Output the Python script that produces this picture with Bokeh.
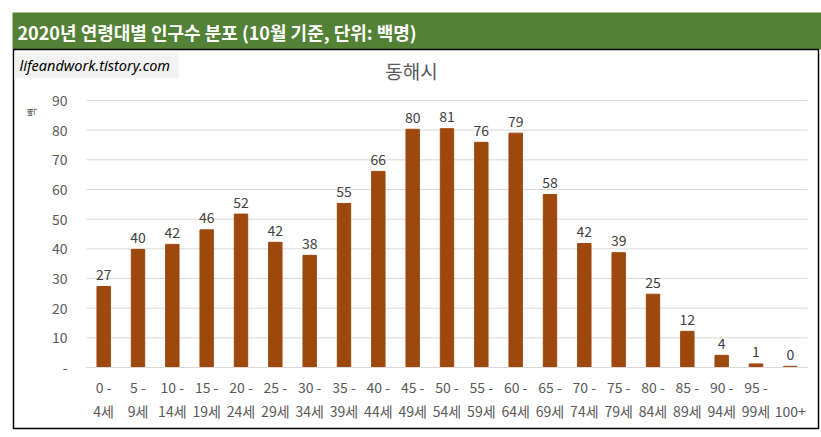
import math
from bokeh.plotting import figure
from bokeh.models import BoxAnnotation, Label, FixedTicker, ColumnDataSource, Range1d, LinearAxis
from bokeh.core.properties import value
from bokeh.embed import file_html
from bokeh.resources import INLINE

# ---- data ----
age_groups = ["0 -\n4세", "5 -\n9세", "10 -\n14세", "15 -\n19세", "20 -\n24세", "25 -\n29세",
              "30 -\n34세", "35 -\n39세", "40 -\n44세", "45 -\n49세", "50 -\n54세", "55 -\n59세",
              "60 -\n64세", "65 -\n69세", "70 -\n74세", "75 -\n79세", "80 -\n84세", "85 -\n89세",
              "90 -\n94세", "95 -\n99세", "\n100+"]
population = [27.3, 39.8, 41.5, 46.4, 51.7, 42.2, 37.8, 55.3, 66.1, 80.3, 80.5, 75.9,
              79.0, 58.3, 41.8, 38.7, 24.7, 12.2, 4.1, 1.2, 0.4]
value_labels = ["27", "40", "42", "46", "52", "42", "38", "55", "66", "80", "81", "76",
                "79", "58", "42", "39", "25", "12", "4", "1", "0"]
y_ticks = [0, 10, 20, 30, 40, 50, 60, 70, 80, 90]
y_tick_labels = {0: "-"}

header_text = "2020년 연령대별 인구수 분포 (10월 기준, 단위: 백명)"
chart_title = "동해시"
watermark = "lifeandwork.tistory.com"
unit_text = "백"

FONT = "Noto Sans CJK KR"
BAR = "#9E480E"
GRID = "#D9D9D9"
TXT = "#595959"

W, H = 821, 437
# layout of the plotting area inside the canvas (pixels)
AREA_L, AREA_R, AREA_TOP, AREA_BOT = 86, 807, 100, 367

n = len(age_groups)
xpx = (AREA_R - AREA_L) / n
x_start = -AREA_L / xpx
x_end = n + (W - AREA_R) / xpx
ypx = (AREA_BOT - AREA_TOP) / 90.0
y_end = 90 + AREA_TOP / ypx
y_start = -(H - AREA_BOT) / ypx

xpos = [i + 0.5 for i in range(n)]

p = figure(x_range=Range1d(x_start, x_end), y_range=Range1d(y_start, y_end), width=W, height=H,
           output_backend="svg", toolbar_location=None,
           min_border_left=0, min_border_right=0, min_border_top=0, min_border_bottom=0,
           x_axis_location=None, y_axis_location=None)
p.outline_line_color = None
p.background_fill_color = "white"
p.border_fill_color = "white"
p.grid.visible = False

# decorations (screen units: x from left, y up from bottom of frame == canvas)
p.add_layout(BoxAnnotation(left=12, right=W, bottom=H - 49, top=H - 12,
                           left_units="screen", right_units="screen",
                           bottom_units="screen", top_units="screen",
                           fill_color="#538135", fill_alpha=1, line_color=None, level="underlay"))
p.add_layout(BoxAnnotation(left=13, right=818, bottom=H - 428, top=H - 49,
                           left_units="screen", right_units="screen",
                           bottom_units="screen", top_units="screen",
                           fill_alpha=0, line_color="black", line_alpha=1, line_width=1.5,
                           level="underlay"))
p.add_layout(BoxAnnotation(left=14, right=178, bottom=H - 78, top=H - 52,
                           left_units="screen", right_units="screen",
                           bottom_units="screen", top_units="screen",
                           fill_color="#F2F2F2", fill_alpha=1, line_color=None, level="underlay"))

# gridlines across the category span
p.segment(x0=[0] * len(y_ticks), x1=[n] * len(y_ticks), y0=y_ticks, y1=y_ticks,
          line_color=GRID, line_width=1)

src = ColumnDataSource(dict(x=xpos, top=population, lab=value_labels))
p.vbar(x="x", top="top", width=0.39, source=src, fill_color=BAR, line_color=BAR)
p.text(x="x", y="top", text="lab", source=src, text_align="center", text_baseline="middle",
       y_offset=-12, text_font=value(FONT), text_font_size="14px", text_color="#404040")

xaxis = LinearAxis(fixed_location=0, bounds=(0, n))
xaxis.ticker = FixedTicker(ticks=xpos)
xaxis.major_label_overrides = {x: lab for x, lab in zip(xpos, age_groups)}
xaxis.axis_line_color = GRID
xaxis.major_tick_line_color = None
xaxis.minor_tick_line_color = None
xaxis.major_label_standoff = 3
xaxis.major_label_text_font = FONT
xaxis.major_label_text_font_size = "14px"
xaxis.major_label_text_color = TXT
p.add_layout(xaxis, "below")

yaxis = LinearAxis(fixed_location=0, bounds=(0, 90))
yaxis.ticker = FixedTicker(ticks=y_ticks)
yaxis.major_label_overrides = y_tick_labels
yaxis.axis_line_color = None
yaxis.major_tick_line_color = None
yaxis.minor_tick_line_color = None
yaxis.major_label_standoff = 13
yaxis.major_label_text_font = FONT
yaxis.major_label_text_font_size = "14px"
yaxis.major_label_text_color = TXT
p.add_layout(yaxis, "left")

p.add_layout(Label(x=17, y=H - 31, x_units="screen", y_units="screen", text=header_text,
                   text_font=FONT, text_font_size="18px", text_font_style="bold",
                   text_color="white", text_baseline="middle", text_align="left"))
p.add_layout(Label(x=411, y=H - 70, x_units="screen", y_units="screen", text=chart_title,
                   text_font=FONT, text_font_size="19px", text_color=TXT,
                   text_baseline="middle", text_align="center"))
p.add_layout(Label(x=19, y=H - 64, x_units="screen", y_units="screen", text=watermark,
                   text_font="Noto Sans", text_font_size="14.5px", text_font_style="italic",
                   text_color="black", text_baseline="middle", text_align="left"))
p.add_layout(Label(x=31, y=H - 112, x_units="screen", y_units="screen", text=unit_text,
                   angle=math.pi / 2, text_font=FONT, text_font_size="10px", text_color=TXT,
                   text_baseline="middle", text_align="center"))

open("out.html", "w").write(file_html(p, INLINE))
